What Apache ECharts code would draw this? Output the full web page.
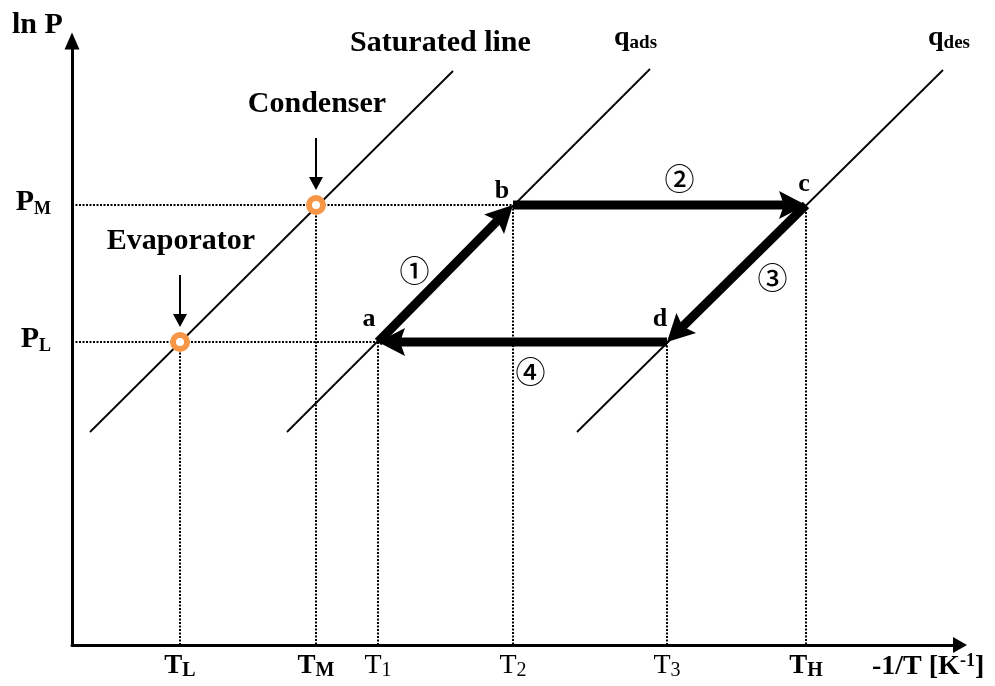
<!DOCTYPE html>
<html><head><meta charset="utf-8">
<script src="https://cdn.jsdelivr.net/npm/echarts@6/dist/echarts.min.js"></script>
<style>html,body{margin:0;padding:0;background:#fff}#c{width:995px;height:686px}</style>
</head><body><div id="c"></div>
<script>
// ---- data (arbitrary units: x = -1/T, y = ln P) ----
const tempNames = ['TL', 'TM', 'T1', 'T2', 'T3', 'TH'];
const tempValues = [108, 244, 306, 441, 595, 734];
const tempLabels = ['{b|T}{bs|L}', '{b|T}{bs|M}', '{r|T}{rs|1}', '{r|T}{rs|2}', '{r|T}{rs|3}', '{b|T}{bs|H}'];
const pressureNames = ['PL', 'PM'];
const pressureValues = [303, 440];
const pressureLabels = ['{b|P}{bs|L}', '{b|P}{bs|M}'];
const saturatedLine = [[18, 213], [381, 574]];
const adsorptionLine = [[215, 213], [578, 576]];
const desorptionLine = [[505, 213], [871, 575]];
const stateNames = ['a', 'b', 'c', 'd'];
const stateX = [306, 441, 734, 595];
const stateY = [303, 440, 440, 303];
const processNames = ['①', '②', '③', '④'];
const componentNames = ['Evaporator', 'Condenser'];
const componentX = [108, 244];
const componentY = [303, 440];

// ---- layout constants ----
const SERIF = '"Liberation Serif", "Times New Roman", serif';
const stateLabelOffset = [[-9, -23], [-11, -14], [-2, -21], [-7, -23]];
const processLabelOffset = [[-31, -3], [20, -26], [36, 4], [8, 30]];

const chart = echarts.init(document.getElementById('c'));

const guideSeries = [];
function dotted(pts) {
  guideSeries.push({
    type: 'line', data: pts, symbol: 'none', silent: true, z: 2,
    lineStyle: { color: '#000', width: 2, type: [2, 1.5] }
  });
}
// horizontal guides from the ln P axis
dotted([[0, pressureValues[1]], [stateX[1], stateY[1]]]);
dotted([[0, pressureValues[0]], [stateX[0], stateY[0]]]);
// vertical guides down to the -1/T axis
for (let i = 0; i < componentX.length; i++) dotted([[componentX[i], componentY[i]], [componentX[i], 0]]);
for (let i = 0; i < stateX.length; i++) dotted([[stateX[i], stateY[i]], [stateX[i], 0]]);

function thinLine(pts) {
  return {
    type: 'line', data: pts, symbol: 'none', silent: true, z: 3,
    lineStyle: { color: '#000', width: 1.8 }
  };
}

function arrowShape(p1, p2, L, W, N, lw, color) {
  const dx = p2[0] - p1[0], dy = p2[1] - p1[1];
  const len = Math.sqrt(dx * dx + dy * dy);
  const ux = dx / len, uy = dy / len, px = -uy, py = ux;
  const endX = p2[0] - ux * (L - N - 1), endY = p2[1] - uy * (L - N - 1);
  return [
    { type: 'line', shape: { x1: p1[0], y1: p1[1], x2: endX, y2: endY },
      style: { stroke: color, lineWidth: lw, lineCap: 'butt' } },
    { type: 'polygon', shape: { points: [
        [p2[0], p2[1]],
        [p2[0] - ux * L + px * W, p2[1] - uy * L + py * W],
        [p2[0] - ux * (L - N), p2[1] - uy * (L - N)],
        [p2[0] - ux * L - px * W, p2[1] - uy * L - py * W]
      ] }, style: { fill: color } }
  ];
}

const option = {
  animation: false,
  backgroundColor: '#fff',
  grid: { left: 72, top: 41, right: 35, bottom: 41, outerBoundsMode: 'none' },
  xAxis: {
    type: 'value', min: 0, max: 888,
    splitLine: { show: false },
    axisTick: { show: false },
    axisLine: { lineStyle: { color: '#000', width: 3 }, symbol: ['none', 'triangle'], symbolSize: [16, 14] },
    axisLabel: {
      customValues: tempValues,
      margin: 6,
      formatter: function (v) { const i = tempValues.indexOf(v); return i >= 0 ? tempLabels[i] : ''; },
      rich: {
        b: { fontFamily: SERIF, fontWeight: 'bold', fontSize: 27, lineHeight: 30, color: '#000' },
        bs: { fontFamily: SERIF, fontWeight: 'bold', fontSize: 20, lineHeight: 8, verticalAlign: 'bottom', color: '#000' },
        r: { fontFamily: SERIF, fontSize: 28, lineHeight: 30, color: '#000' },
        rs: { fontFamily: SERIF, fontSize: 20, lineHeight: 8, verticalAlign: 'bottom', color: '#000' }
      }
    }
  },
  yAxis: {
    type: 'value', min: 0, max: 604,
    splitLine: { show: false },
    axisTick: { show: false },
    axisLine: { lineStyle: { color: '#000', width: 3 }, symbol: ['none', 'triangle'], symbolSize: [15, 17] },
    axisLabel: {
      customValues: pressureValues,
      margin: 21,
      padding: [0, 0, 6, 0],
      formatter: function (v) { const i = pressureValues.indexOf(v); return i >= 0 ? pressureLabels[i] : ''; },
      rich: {
        b: { fontFamily: SERIF, fontWeight: 'bold', fontSize: 30, lineHeight: 32, color: '#000' },
        bs: { fontFamily: SERIF, fontWeight: 'bold', fontSize: 18, lineHeight: 14, verticalAlign: 'bottom', color: '#000' }
      }
    }
  },
  graphic: [
    { type: 'text', left: 12, top: 10, z: 10, style: { text: 'ln P', font: 'bold 30px ' + SERIF, fill: '#000' } },
    { type: 'text', x: 350, y: 43, z: 10, style: { text: 'Saturated line', font: 'bold 30px ' + SERIF, fill: '#000', verticalAlign: 'middle' } },
    { type: 'text', x: 614, y: 37.5, z: 10, style: { text: '{m|q}{s|ads}', verticalAlign: 'middle',
        rich: { m: { fontFamily: SERIF, fontWeight: 'bold', fontSize: 28, lineHeight: 30, fill: '#000' },
                s: { fontFamily: SERIF, fontWeight: 'bold', fontSize: 19, lineHeight: 8, verticalAlign: 'bottom', fill: '#000' } } } },
    { type: 'text', x: 928, y: 37.5, z: 10, style: { text: '{m|q}{s|des}', verticalAlign: 'middle',
        rich: { m: { fontFamily: SERIF, fontWeight: 'bold', fontSize: 28, lineHeight: 30, fill: '#000' },
                s: { fontFamily: SERIF, fontWeight: 'bold', fontSize: 19, lineHeight: 8, verticalAlign: 'bottom', fill: '#000' } } } },
    { type: 'text', x: 872, y: 667, z: 10, style: { text: '{m|-1/T [K}{u|-1}{m|]}', verticalAlign: 'middle',
        rich: { m: { fontFamily: SERIF, fontWeight: 'bold', fontSize: 28, lineHeight: 30, fill: '#000' },
                u: { fontFamily: SERIF, fontWeight: 'bold', fontSize: 18, lineHeight: 16, verticalAlign: 'top', fill: '#000' } } } }
  ],
  series: [
    thinLine(saturatedLine),
    thinLine(adsorptionLine),
    thinLine(desorptionLine),
    ...guideSeries,
    {
      type: 'scatter', z: 5, silent: true,
      data: componentX.map((x, i) => [x, componentY[i]]),
      symbol: 'circle', symbolSize: 14,
      itemStyle: { color: '#fff', borderColor: '#F79646', borderWidth: 6, opacity: 1 }
    },
    {
      type: 'custom', z: 6, silent: true, clip: false,
      data: componentX.map((x, i) => [x, componentY[i]]),
      renderItem: function (params, api) {
        const p = api.coord([api.value(0), api.value(1)]);
        const tip = [p[0], p[1] - 15];
        const tail = [p[0], p[1] - 67];
        const children = arrowShape(tail, tip, 13, 7, 0, 2, '#000');
        children.push({ type: 'text', style: {
          text: componentNames[params.dataIndex], x: p[0] + 1, y: p[1] - 101,
          font: 'bold 30px ' + SERIF, fill: '#000', align: 'center', verticalAlign: 'middle' } });
        return { type: 'group', children: children };
      }
    },
    {
      type: 'custom', z: 7, silent: true, clip: false,
      data: stateX.map((x, i) => [x, stateY[i]]),
      renderItem: function (params, api) {
        const i = params.dataIndex, j = (i + 1) % stateX.length;
        const p1 = api.coord([api.value(0), api.value(1)]);
        const p2 = api.coord([stateX[j], stateY[j]]);
        const children = arrowShape(p1, p2, 27, 14, 5, 9, '#000');
        children.push({ type: 'text', style: {
          text: stateNames[i], x: p1[0] + stateLabelOffset[i][0], y: p1[1] + stateLabelOffset[i][1],
          font: 'bold 26px ' + SERIF, fill: '#000', align: 'center', verticalAlign: 'middle' } });
        const mx = (p1[0] + p2[0]) / 2, my = (p1[1] + p2[1]) / 2;
        children.push({ type: 'text', style: {
          text: processNames[i], x: mx + processLabelOffset[i][0], y: my + processLabelOffset[i][1],
          font: '500 30px "Noto Sans CJK JP", "DejaVu Sans", sans-serif', fill: '#000', align: 'center', verticalAlign: 'middle' } });
        return { type: 'group', children: children };
      }
    }
  ]
};
chart.setOption(option);
</script></body></html>
